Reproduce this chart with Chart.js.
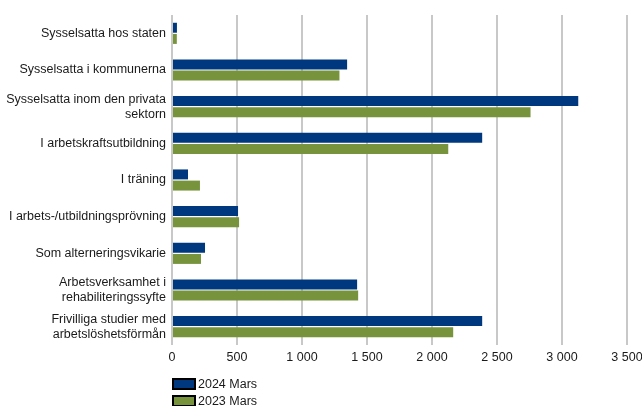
<!DOCTYPE html>
<html>
<head>
<meta charset="utf-8">
<script src="https://cdn.jsdelivr.net/npm/chart.js@4"></script>
<style>
  body { margin: 0; background: #fff; font-family: "Liberation Sans", Arial, sans-serif; }
  #wrap { position: relative; width: 642px; height: 406px; }
  #legend { position: absolute; left: 172px; top: 375px; font-size: 12.5px; color: #1a1a1a; }
  #legend div { display: flex; align-items: center; height: 17.5px; }
  #legend span.box { display: inline-block; width: 20px; height: 8px; border: 2px solid #000; margin-right: 2px; }
</style>
</head>
<body>
<div id="wrap">
  <canvas id="c" width="642" height="406"></canvas>
  <div id="legend"></div>
</div>
<script>
const categories = [
    "Sysselsatta hos staten",
    "Sysselsatta i kommunerna",
    ["Sysselsatta inom den privata", "sektorn"],
    "I arbetskraftsutbildning",
    "I träning",
    "I arbets-/utbildningsprövning",
    "Som alterneringsvikarie",
    ["Arbetsverksamhet i", "rehabiliteringssyfte"],
    ["Frivilliga studier med", "arbetslöshetsförmån"]
];
const mars2024 = [38, 1347, 3125, 2386, 123, 508, 254, 1424, 2386];
const mars2023 = [37, 1288, 2758, 2125, 215, 516, 223, 1432, 2163];
const xTicks = [0, 500, 1000, 1500, 2000, 2500, 3000, 3500];

const fmt = v => String(v).replace(/\B(?=(\d{3})+(?!\d))/g, " ");

const chart = new Chart(document.getElementById("c"), {
    type: "bar",
    data: {
        labels: categories,
        datasets: [
            { label: "2024 Mars", data: mars2024, backgroundColor: "#00387f" },
            { label: "2023 Mars", data: mars2023, backgroundColor: "#77933c" }
        ]
    },
    options: {
        indexAxis: "y",
        responsive: false,
        animation: false,
        categoryPercentage: 0.61,
        barPercentage: 0.89,
        layout: { padding: { top: 15, right: 15, bottom: 41.6, left: 0 } },
        scales: {
            x: {
                min: 0,
                max: 3500,
                afterBuildTicks: s => { s.ticks = xTicks.map(v => ({ value: v })); },
                afterFit: s => { s.paddingLeft = 0; s.paddingRight = 0; s.height = 19.4; },
                grid: { color: "#c8c8c8", lineWidth: 2, drawTicks: false },
                border: { display: false },
                ticks: {
                    color: "#1a1a1a",
                    padding: 5,
                    font: { family: "Liberation Sans", size: 12.5 },
                    callback: v => fmt(v)
                }
            },
            y: {
                afterFit: s => { s.width = 172; s.paddingTop = 0; s.paddingBottom = 0; },
                grid: { display: false, drawTicks: false },
                border: { display: false },
                ticks: {
                    color: "#1a1a1a",
                    padding: 6,
                    font: { family: "Liberation Sans", size: 12.5 }
                }
            }
        },
        plugins: {
            legend: { display: false },
            tooltip: { enabled: false }
        }
    }
});

const legend = document.getElementById("legend");
chart.data.datasets.forEach(ds => {
    const row = document.createElement("div");
    row.innerHTML = '<span class="box" style="background:' + ds.backgroundColor + '"></span>' + ds.label;
    legend.appendChild(row);
});
</script>
</body>
</html>
